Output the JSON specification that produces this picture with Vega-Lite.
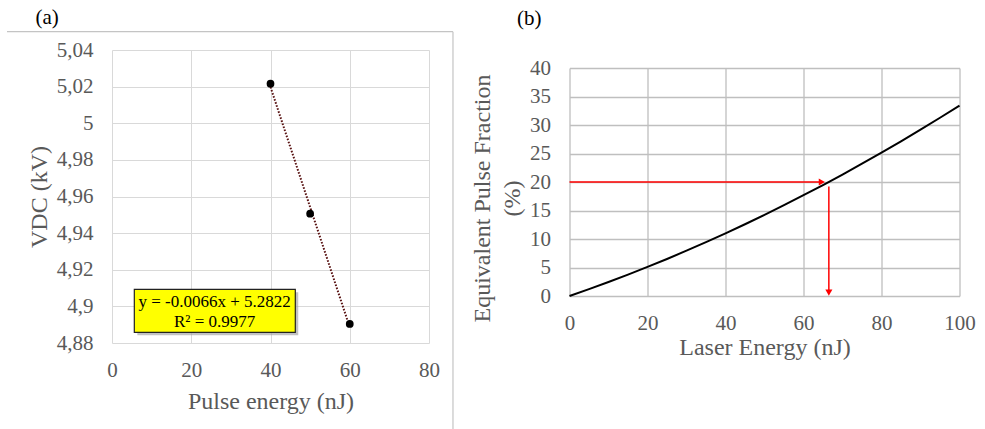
{
  "$schema": "https://vega.github.io/schema/vega-lite/v6.json",
  "background": "white",
  "padding": {"left": 6, "top": 6, "right": 5, "bottom": 0},
  "spacing": 15.5,
  "config": {
    "view": {"stroke": null},
    "axis": {
      "labelColor": "#595959",
      "titleColor": "#595959",
      "titleFontWeight": "normal",
      "ticks": false,
      "domain": false,
      "grid": true
    },
    "title": {
      "font": "Liberation Serif",
      "fontSize": 21,
      "fontWeight": "normal",
      "color": "black",
      "anchor": "start",
      "frame": "bounds"
    }
  },
  "hconcat": [
    {
      "title": {"text": "(a)", "offset": 3.5, "dx": 29},
      "width": 317,
      "height": 293,
      "encoding": {
        "x": {
          "field": "energy",
          "type": "quantitative",
          "scale": {"domain": [0, 80], "nice": false},
          "axis": {
            "values": [0, 20, 40, 60, 80],
            "title": "Pulse energy (nJ)",
            "labelFont": "Liberation Serif",
            "labelFontSize": 21,
            "titleFont": "Liberation Serif",
            "titleFontSize": 24,
            "labelOverlap": false,
            "labelFlush": false,
            "gridColor": "#d9d9d9",
            "labelPadding": 16,
            "titlePadding": 9
          }
        },
        "y": {
          "field": "vdc",
          "type": "quantitative",
          "scale": {"domain": [4.88, 5.04], "nice": false, "zero": false},
          "axis": {
            "values": [4.88, 4.9, 4.92, 4.94, 4.96, 4.98, 5, 5.02, 5.04],
            "labelExpr": "replace(format(datum.value, '.2~f'), '.', ',')",
            "title": "VDC (kV)",
            "labelFont": "Liberation Serif",
            "labelFontSize": 21,
            "titleFont": "Liberation Serif",
            "titleFontSize": 24,
            "labelOverlap": false,
            "labelFlush": false,
            "gridColor": "#d9d9d9",
            "labelPadding": 19,
            "titlePadding": 5
          }
        }
      },
      "layer": [
        {
          "data": {"values": [{"energy": -26.5, "energy_end": 86.05, "vdc": 5.05}]},
          "mark": {"type": "rule", "color": "#c4c4c4", "strokeWidth": 1.2},
          "encoding": {"x2": {"field": "energy_end"}}
        },
        {
          "data": {"values": [{"energy": 86.05, "vdc": 5.05, "vdc_end": 4.83}]},
          "mark": {"type": "rule", "color": "#c4c4c4", "strokeWidth": 1.2},
          "encoding": {"y2": {"field": "vdc_end"}}
        },
        {
          "data": {
            "values": [
              {"energy": 40, "vdc": 5.0216},
              {"energy": 50, "vdc": 4.9506},
              {"energy": 60, "vdc": 4.8904}
            ]
          },
          "transform": [{"regression": "vdc", "on": "energy", "method": "linear"}],
          "mark": {"type": "line", "color": "#5a1414", "strokeWidth": 2, "strokeDash": [1.6, 1.6]}
        },
        {
          "data": {
            "values": [
              {"energy": 40, "vdc": 5.0216},
              {"energy": 50, "vdc": 4.9506},
              {"energy": 60, "vdc": 4.8904}
            ]
          },
          "mark": {"type": "circle", "color": "black", "size": 60, "opacity": 1}
        },
        {
          "data": {"values": [{"energy": 6.4, "energy_end": 47.0, "vdc": 4.9077, "vdc_end": 4.8842}]},
          "mark": {"type": "rect", "color": "#9a9a9a", "opacity": 0.6},
          "encoding": {
            "x2": {"field": "energy_end"},
            "y2": {"field": "vdc_end"}
          }
        },
        {
          "data": {"values": [{"energy": 5.63, "energy_end": 46.26, "vdc": 4.9093, "vdc_end": 4.8858}]},
          "mark": {"type": "rect", "fill": "#ffff00", "stroke": "#222222", "strokeWidth": 1.2},
          "encoding": {
            "x2": {"field": "energy_end"},
            "y2": {"field": "vdc_end"}
          }
        },
        {
          "data": {"values": [{"energy": 25.9, "vdc": 4.9025}]},
          "mark": {
            "type": "text",
            "text": ["y = -0.0066x  + 5.2822", "R² = 0.9977"],
            "font": "Liberation Serif",
            "fontSize": 17,
            "lineHeight": 20,
            "color": "black",
            "align": "center",
            "baseline": "middle"
          }
        }
      ]
    },
    {
      "bounds": "flush",
      "spacing": 17,
      "vconcat": [
        {
          "width": 390,
          "height": 1,
          "data": {"values": []},
          "mark": {"type": "point", "opacity": 0}
        },
        {
          "title": {"text": "(b)", "offset": 28.5, "dx": 47},
          "width": 390,
          "height": 228,
          "encoding": {
            "x": {
              "field": "energy",
              "type": "quantitative",
              "scale": {"domain": [0, 100], "nice": false},
              "axis": {
                "values": [0, 20, 40, 60, 80, 100],
                "title": "Laser Energy (nJ)",
                "labelFont": "Liberation Serif",
                "labelFontSize": 21,
                "titleFont": "Liberation Serif",
                "titleFontSize": 24,
                "labelOverlap": false,
                "labelFlush": false,
                "gridColor": "#bfbfbf",
                "gridWidth": 1.3,
                "labelPadding": 16,
                "titlePadding": 2
              }
            },
            "y": {
              "field": "fraction",
              "type": "quantitative",
              "scale": {"domain": [0, 40], "nice": false},
              "axis": {
                "values": [0, 5, 10, 15, 20, 25, 30, 35, 40],
                "title": ["Equivalent Pulse Fraction", "(%)"],
                "labelFont": "Liberation Serif",
                "labelFontSize": 21,
                "titleFont": "Liberation Serif",
                "titleFontSize": 24,
                "labelOverlap": false,
                "labelFlush": false,
                "titleLineHeight": 30,
                "titleY": 130,
                "gridColor": "#bfbfbf",
                "gridWidth": 1.3,
                "labelPadding": 19,
                "titlePadding": 5.5
              }
            }
          },
          "layer": [
            {
              "data": {
                "values": [
                  {"energy": 0, "fraction": 0},
                  {"energy": 5, "fraction": 1.2},
                  {"energy": 10, "fraction": 2.45},
                  {"energy": 15, "fraction": 3.75},
                  {"energy": 20, "fraction": 5.1},
                  {"energy": 25, "fraction": 6.5},
                  {"energy": 30, "fraction": 7.95},
                  {"energy": 35, "fraction": 9.45},
                  {"energy": 40, "fraction": 10.99},
                  {"energy": 45, "fraction": 12.59},
                  {"energy": 50, "fraction": 14.24},
                  {"energy": 55, "fraction": 15.93},
                  {"energy": 60, "fraction": 17.68},
                  {"energy": 65, "fraction": 19.47},
                  {"energy": 70, "fraction": 21.31},
                  {"energy": 75, "fraction": 23.21},
                  {"energy": 80, "fraction": 25.15},
                  {"energy": 85, "fraction": 27.14},
                  {"energy": 90, "fraction": 29.18},
                  {"energy": 95, "fraction": 31.27},
                  {"energy": 100, "fraction": 33.41}
                ]
              },
              "mark": {"type": "line", "color": "black", "strokeWidth": 2, "interpolate": "monotone"}
            },
            {
              "data": {
                "values": [
                  {"energy": 0, "fraction": 20, "energy_end": 64.7, "fraction_end": 20},
                  {"energy": 66.5, "fraction": 19.2, "energy_end": 66.5, "fraction_end": 0.6}
                ]
              },
              "mark": {"type": "rule", "color": "#ff0000", "strokeWidth": 1.5},
              "encoding": {
                "x2": {"field": "energy_end"},
                "y2": {"field": "fraction_end"}
              }
            },
            {
              "data": {"values": [{"energy": 64.7, "fraction": 20}]},
              "mark": {"type": "point", "shape": "triangle-right", "filled": true, "color": "#ff0000", "size": 50, "opacity": 1}
            },
            {
              "data": {"values": [{"energy": 66.5, "fraction": 0.6}]},
              "mark": {"type": "point", "shape": "triangle-down", "filled": true, "color": "#ff0000", "size": 50, "opacity": 1}
            }
          ]
        }
      ]
    }
  ]
}
